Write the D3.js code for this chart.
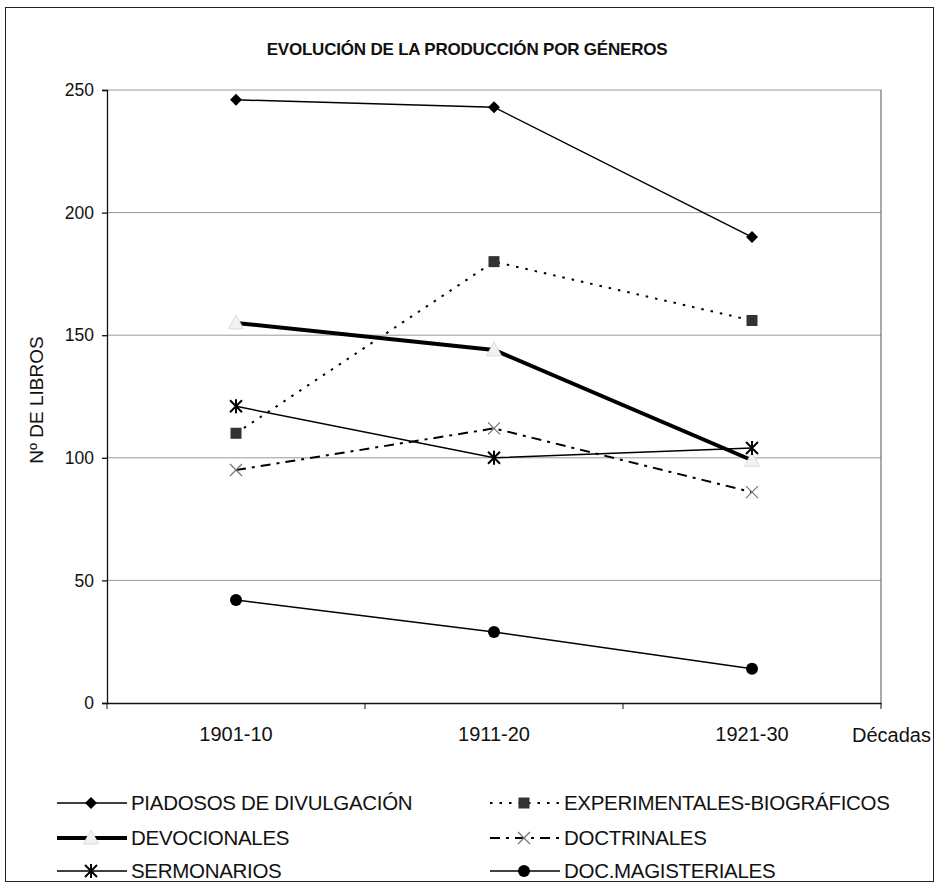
<!DOCTYPE html>
<html><head><meta charset="utf-8">
<script src="https://cdn.jsdelivr.net/npm/d3@7"></script>
<style>body{margin:0;background:#fff}svg{display:block}text{font-family:"Liberation Sans",Arial,sans-serif;fill:#111}</style>
</head><body><svg id="c" width="935" height="883"></svg>
<script>
const decades = ["1901-10","1911-20","1921-30"];
const yTicks = [0,50,100,150,200,250];
const piadosos = [246,243,190];
const experimentales = [110,180,156];
const devocionales = [155,144,99];
const doctrinales = [95,112,86];
const sermonarios = [121,100,104];
const magisteriales = [42,29,14];
const seriesNames = ["PIADOSOS DE DIVULGACIÓN","EXPERIMENTALES-BIOGRÁFICOS","DEVOCIONALES","DOCTRINALES","SERMONARIOS","DOC.MAGISTERIALES"];

const series = [
 {name:seriesNames[0], values:piadosos, w:1.5, dash:null, marker:"diamond"},
 {name:seriesNames[1], values:experimentales, w:2, dash:"2.5,7", marker:"square"},
 {name:seriesNames[2], values:devocionales, w:4, dash:null, marker:"triangle"},
 {name:seriesNames[3], values:doctrinales, w:2, dash:"10,6,3,6", marker:"x"},
 {name:seriesNames[4], values:sermonarios, w:1.5, dash:null, marker:"asterisk"},
 {name:seriesNames[5], values:magisteriales, w:1.5, dash:null, marker:"circle"}
];

const svg = d3.select("#c");
const L=107,R=881,T=90,B=703;
svg.append("rect").attr("x",5.5).attr("y",7.5).attr("width",928).attr("height",874).attr("fill","none").attr("stroke","#222").attr("stroke-width",1);

const x = d3.scaleBand().domain(decades).range([L,R]);
const y = d3.scaleLinear().domain([0,250]).range([B,T]);

svg.append("text").attr("x",467).attr("y",55).attr("text-anchor","middle").attr("font-size",17).attr("font-weight","bold").attr("letter-spacing","-0.2").text("EVOLUCIÓN DE LA PRODUCCIÓN POR GÉNEROS");

svg.append("g").selectAll("line").data(yTicks.filter(d=>d>0)).join("line")
 .attr("x1",L).attr("x2",R).attr("y1",d=>y(d)).attr("y2",d=>y(d)).attr("stroke","#999").attr("stroke-width",1);
svg.append("line").attr("x1",R).attr("x2",R).attr("y1",T).attr("y2",B).attr("stroke","#555");

const ya = svg.append("g").attr("transform",`translate(${L},0)`).call(d3.axisLeft(y).tickValues(yTicks).tickSize(5).tickPadding(8));
ya.selectAll("text").style("font-size","17.5px").style("font-family","Liberation Sans, Arial, sans-serif").attr("fill","#111");
ya.selectAll("line,path").attr("stroke","#111").attr("stroke-width",1.3);

const xa = svg.append("g").attr("transform",`translate(0,${B})`).call(d3.axisBottom(x).tickSize(0).tickPadding(24));
xa.selectAll("text").style("font-size","20px").style("font-family","Liberation Sans, Arial, sans-serif").attr("fill","#111");
xa.select("path").attr("stroke","#111").attr("stroke-width",1.3);
svg.append("g").selectAll("line").data(decades.map(d=>x(d)).concat([R])).join("line")
 .attr("x1",d=>d).attr("x2",d=>d).attr("y1",B).attr("y2",B+6).attr("stroke","#111");

svg.append("text").attr("x",852).attr("y",742).attr("font-size",20).text("Décadas");
svg.append("text").attr("transform","translate(43,400) rotate(-90)").attr("text-anchor","middle").attr("font-size",19).text("Nº DE LIBROS");

const cx = d => x(d)+x.bandwidth()/2;
const line = d3.line().x((v,i)=>cx(decades[i])).y(v=>y(v));

function marker(g, type, px, py){
  if(type==="diamond") g.append("path").attr("d",`M${px},${py-6}L${px+6},${py}L${px},${py+6}L${px-6},${py}Z`).attr("fill","#000");
  else if(type==="square") g.append("rect").attr("x",px-5.5).attr("y",py-5.5).attr("width",11).attr("height",11).attr("fill","#333");
  else if(type==="triangle") g.append("path").attr("d",`M${px},${py-8}L${px+7.5},${py+6}L${px-7.5},${py+6}Z`).attr("fill","#f2f2f2").attr("stroke","#dcdcdc").attr("stroke-width",1);
  else if(type==="x") g.append("path").attr("d",`M${px-6},${py-6}L${px+6},${py+6}M${px-6},${py+6}L${px+6},${py-6}`).attr("stroke","#777").attr("stroke-width",1.3);
  else if(type==="asterisk") g.append("path").attr("d",`M${px-6},${py-6}L${px+6},${py+6}M${px-6},${py+6}L${px+6},${py-6}M${px},${py-7}L${px},${py+7}`).attr("stroke","#000").attr("stroke-width",2);
  else if(type==="circle") g.append("circle").attr("cx",px).attr("cy",py).attr("r",6).attr("fill","#000");
}

series.forEach(s=>{
  const g = svg.append("g");
  g.append("path").attr("d",line(s.values)).attr("fill","none").attr("stroke","#000").attr("stroke-width",s.w).attr("stroke-dasharray",s.dash);
  s.values.forEach((v,i)=>marker(g,s.marker,cx(decades[i]),y(v)));
});

const legPos = [[57,803],[490,803],[57,838],[490,838],[57,871],[490,871]];
series.forEach((s,i)=>{
  const [lx,ly]=legPos[i];
  const g=svg.append("g");
  g.append("line").attr("x1",lx).attr("x2",lx+70).attr("y1",ly).attr("y2",ly).attr("stroke","#000").attr("stroke-width",s.w).attr("stroke-dasharray",s.dash);
  marker(g,s.marker,lx+34,ly);
  g.append("text").attr("x",lx+74).attr("y",ly+7).attr("font-size",20.5).attr("letter-spacing","-0.3").text(s.name);
});
</script></body></html>
